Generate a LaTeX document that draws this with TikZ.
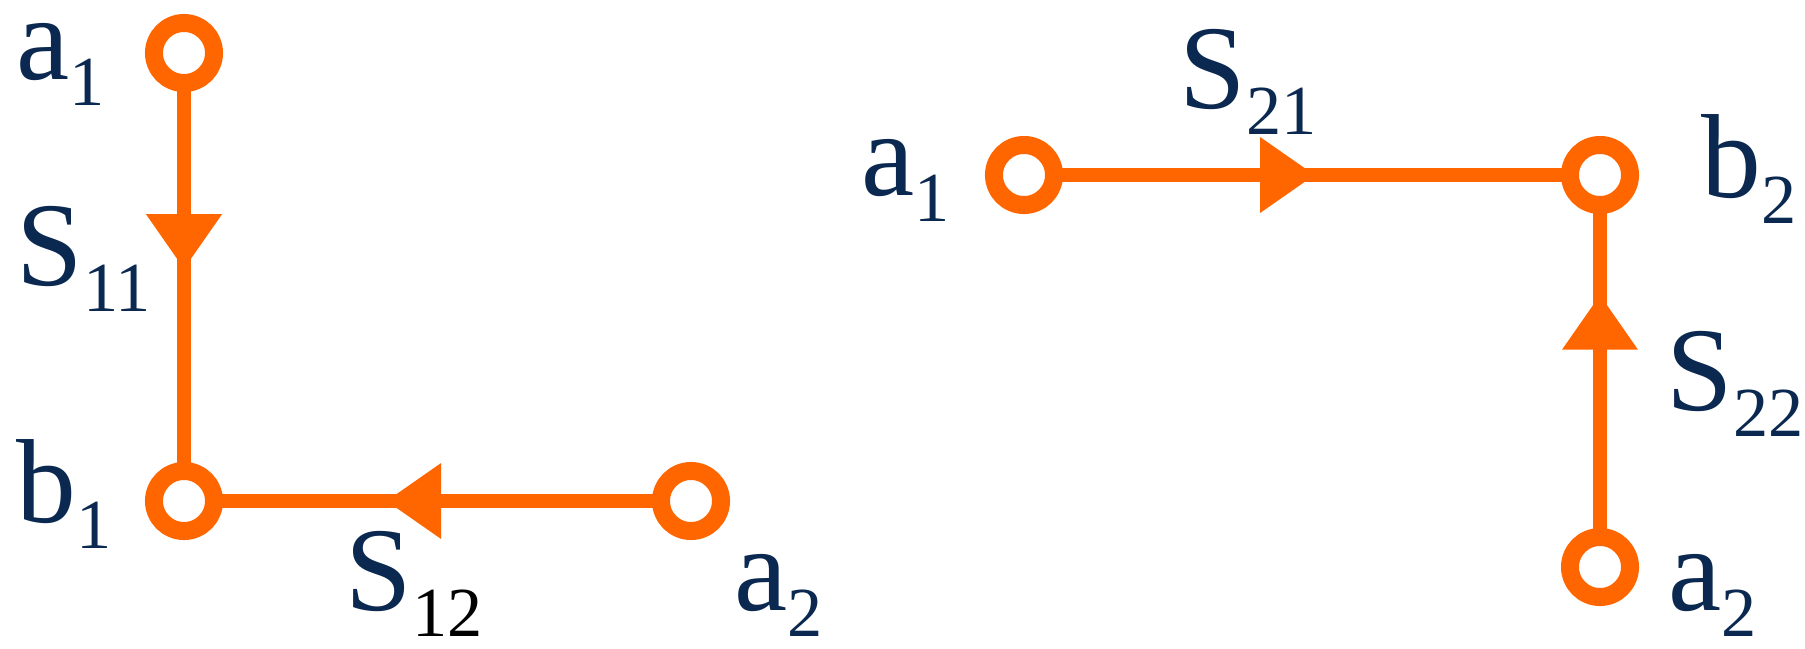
\documentclass[tikz,border=0pt]{standalone}
\usepackage{fontspec}
\setmainfont{Liberation Serif}
\usetikzlibrary{arrows.meta,decorations.markings}
\definecolor{spnavy}{RGB}{10,40,80}
\definecolor{sporange}{RGB}{255,102,0}
\newcommand{\subidx}[1]{{\fontsize{20pt}{21pt}\selectfont\raisebox{-7.4pt}{#1}}}
\tikzset{
  port/.style={circle, draw=sporange, line width=0.18cm, fill=white, minimum size=0.6cm, inner sep=0pt, outer sep=0pt},
  lbl/.style={anchor=base west, inner sep=0pt, text=spnavy, font=\fontsize{34pt}{36pt}\selectfont},
  flow/.style={sporange, line width=0.145cm, postaction={decorate},
    decoration={markings, mark=at position #1 with {\arrow{Triangle[length=0.55cm,width=0.72cm]}}}}
}

\begin{document}
\begin{tikzpicture}[x=0.01cm, y=-0.01cm]
  \useasboundingbox (0,0) rectangle (1805,648);
  % reflection graph
  \node[port] (a1) at (184,53) {};
  \node[port] (b1) at (184,501) {};
  \node[port] (a2) at (691,501) {};
  \draw[flow=0.48] (a1) -- (b1);
  \draw[flow=0.615] (a2) -- (b1);
  \node[lbl] (la1) at (16,79) {a\subidx{1}};
  \node[lbl] (ls11) at (16,285) {S\subidx{11}};
  \node[lbl] (lb1) at (16,522) {b\subidx{1}};
  \node[lbl] (ls12) at (345,610) {S\subidx{\color{black}12}};
  \node[lbl] (la2) at (734,610) {a\subidx{2}};
  % transmission graph
  \node[port] (a1r) at (1024,175) {};
  \node[port] (b2) at (1600,175) {};
  \node[port] (a2r) at (1600,567) {};
  \draw[flow=0.506] (a1r) -- (b2);
  \draw[flow=0.73] (a2r) -- (b2);
  \node[lbl] (la1r) at (861,195) {a\subidx{1}};
  \node[lbl] (ls21) at (1179,108) {S\subidx{21}};
  \node[lbl] (lb2) at (1701,197) {b\subidx{2}};
  \node[lbl] (ls22) at (1666,410) {S\subidx{22}};
  \node[lbl] (la2r) at (1668,610) {a\subidx{2}};
\end{tikzpicture}
\end{document}
